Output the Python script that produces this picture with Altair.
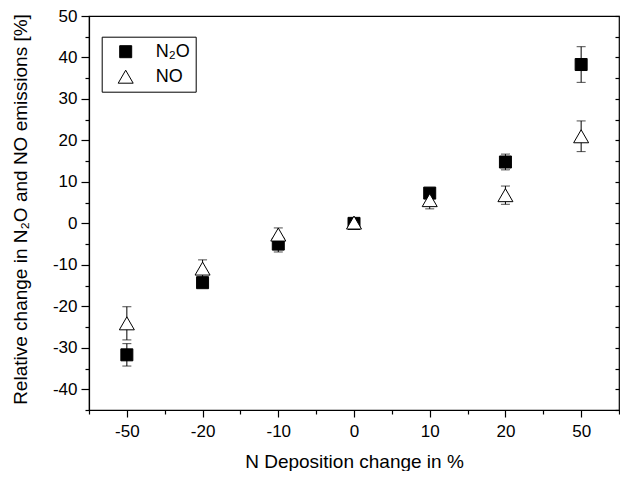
import json
import altair as alt
import pandas as pd

# ---- data ----
categories = ["-50", "-20", "-10", "0", "10", "20", "50"]
series_names = ["N₂O", "NO"]
n2o_mean = [-31.7, -14.3, -5.0, 0.0, 7.3, 14.8, 38.3]
n2o_err = [2.7, 1.0, 1.9, 0.5, 1.0, 1.9, 4.3]
no_mean = [-24.1, -10.9, -2.7, 0.2, 5.6, 6.8, 21.0]
no_err = [4.0, 2.1, 1.6, 0.5, 2.1, 2.2, 3.7]

rows = []
for name, means, errs in [(series_names[0], n2o_mean, n2o_err),
                          (series_names[1], no_mean, no_err)]:
    for i, (c, m, e) in enumerate(zip(categories, means, errs)):
        rows.append({"idx": i, "dep": c, "series": name,
                     "mean": m, "lo": m - e, "hi": m + e})
df = pd.DataFrame(rows)

FONT = "Liberation Sans"
W, H = 530, 394

x_ticks = [k * 0.5 - 0.5 for k in range(2 * len(categories) + 1)]
y_ticks = list(range(-45, 51, 5))

x_scale = alt.Scale(domain=[-0.5, len(categories) - 0.5], nice=False, zero=False)
y_scale = alt.Scale(domain=[-45, 50], nice=False, zero=False)

x_axis = alt.Axis(
    values=x_ticks,
    labelExpr=f"datum.value % 1 == 0 ? {json.dumps(categories)}[datum.value] : ''",
    tickSize={"condition": {"test": "datum.value % 1 != 0", "value": 4}, "value": 7},
    labelPadding=6,
    title="N Deposition change in %",
    titleY=57,
    titleBaseline="alphabetic",
    grid=False,
)
y_axis_left = alt.Axis(
    values=y_ticks,
    labelExpr="datum.value % 10 == 0 ? '' + datum.value : ''",
    tickSize={"condition": {"test": "datum.value % 10 != 0", "value": 4}, "value": 8},
    labelPadding=4,
    title="Relative change in N₂O and NO emissions [%]",
    titleX=-69,
    titleY=193,
    titleBaseline="middle",
    grid=False,
)
y_axis_right = alt.Axis(
    orient="right",
    values=y_ticks,
    labels=False,
    domain=False,
    tickSize=4,
    offset=-4,
    title=None,
    grid=False,
)

legend = alt.Legend(
    orient="none", legendX=12.7, legendY=20.7, title=None,
    padding=6, strokeColor="black", fillColor="white",
    labelFont=FONT, labelFontSize=18, labelColor="black",
    labelExpr="datum.label + '\u00a0'",
    symbolStrokeColor="black", symbolStrokeWidth=1,
    symbolOffset=9, labelOffset=21, rowPadding=7,
)

base = alt.Chart(df)

bars = base.mark_rule(color="black", strokeWidth=1).encode(
    x=alt.X("idx:Q", scale=x_scale, axis=x_axis),
    y=alt.Y("lo:Q", scale=y_scale, axis=y_axis_right),
    y2="hi:Q",
)
cap_lo = base.mark_tick(color="black", orient="horizontal", size=9, thickness=1).encode(
    x=alt.X("idx:Q", scale=x_scale, axis=x_axis),
    y=alt.Y("lo:Q", scale=y_scale, axis=None),
)
cap_hi = base.mark_tick(color="black", orient="horizontal", size=9, thickness=1).encode(
    x=alt.X("idx:Q", scale=x_scale, axis=x_axis),
    y=alt.Y("hi:Q", scale=y_scale, axis=None),
)
points = base.mark_point(strokeWidth=1, opacity=1, fillOpacity=1).encode(
    x=alt.X("idx:Q", scale=x_scale, axis=x_axis),
    y=alt.Y("mean:Q", scale=y_scale, axis=y_axis_left),
    fill=alt.Fill("series:N", scale=alt.Scale(domain=series_names, range=["black", "white"]), legend=legend),
    stroke=alt.Stroke("series:N", scale=alt.Scale(domain=series_names, range=["black", "black"]), legend=legend),
    shape=alt.Shape("series:N", scale=alt.Scale(domain=series_names, range=["square", "triangle-up"]), legend=legend),
    size=alt.Size("series:N", scale=alt.Scale(domain=series_names, range=[144, 225]), legend=legend),
    order=alt.Order("idx:Q"),
)

chart = alt.layer(bars, cap_lo, cap_hi, points).resolve_axis(y="independent").properties(
    width=W, height=H,
    autosize=alt.AutoSizeParams(type="none"),
    padding={"left": 81, "top": 8, "right": 1, "bottom": 61},
    background="white",
).configure_view(
    stroke="black", strokeWidth=1.2,
).configure_axis(
    labelFont=FONT, labelFontSize=17, labelColor="black",
    titleFont=FONT, titleFontSize=19, titleFontWeight="normal", titleColor="black",
    domainColor="black", domainWidth=1.2, tickColor="black", tickWidth=1.2,
)

chart.save("out.html", embed_options={"renderer": "svg", "actions": False})
